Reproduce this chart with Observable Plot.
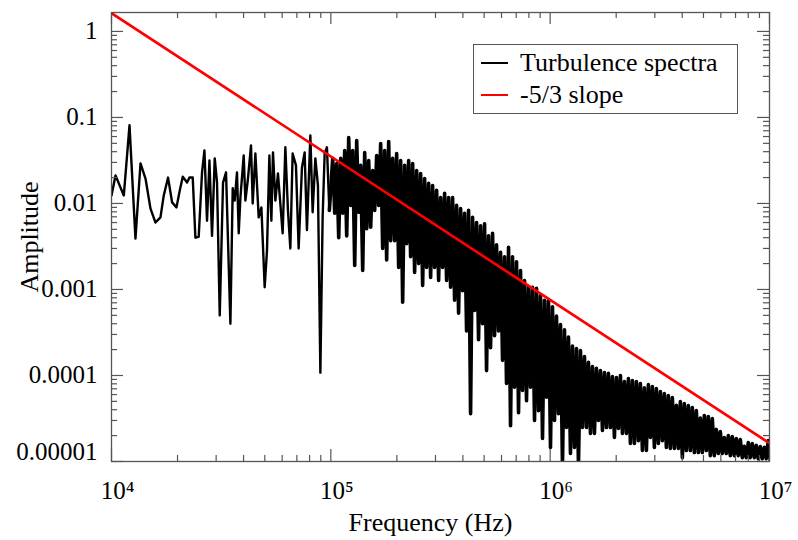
<!DOCTYPE html>
<html><head><meta charset="utf-8">
<script src="https://cdn.jsdelivr.net/npm/d3@7"></script>
<script src="https://cdn.jsdelivr.net/npm/@observablehq/plot@0.6"></script>
<style>
body{margin:0;background:#fff;}
#wrap{position:relative;width:798px;height:540px;font-family:"Liberation Serif","Tinos","Times New Roman","DejaVu Serif",serif;}
#wrap svg text{font-family:"Liberation Serif","Tinos","Times New Roman","DejaVu Serif",serif;}
#legend{position:absolute;left:473px;top:44px;width:265px;height:70px;border:1.3px solid #555;box-sizing:border-box;background:#fff;font-size:26px;color:#000;}
.row{position:absolute;left:0;height:26px;line-height:26px;display:flex;align-items:center;white-space:nowrap;}
.sw{display:inline-block;width:27px;height:0;border-top:2.5px solid;margin-left:7px;margin-right:12px;}
</style></head><body><div id="wrap"><div id="legend"></div></div>
<script>
// ---- Data ----
const seriesNames = ["Turbulence spectra", "-5/3 slope"];
const seriesColors = ["#000000", "#ff0000"];

// low-frequency part of the spectrum (sparse bins), frequency in Hz and amplitude
const lowFreq = [10000,10430,11380,12080,12860,13560,14290,15060,15870,16720,17310,18110,18890,19780,20480,21130,22110,22670,23460,24130,24980,25870,26530,27260,27960,28730,29560,30280,31150,32250,33280,34840,35700,36450,37340,38020,38700,40060,40780,41900,43250,44030,45290,46890,48240,49930,51150,52460,53570,54480,55870,57410,60310,62040,63750,65370,66970,69340,71330,73840,75960,77820,80650,82620,85000,87340,89590,91750,93720,96000,98450];
const lowAmp = [0.0124,0.0212,0.0124,0.081,0.0039,0.0292,0.0195,0.0087,0.0060,0.0069,0.0124,0.020,0.0103,0.0090,0.0142,0.0205,0.0175,0.020,0.020,0.0040,0.0041,0.023,0.0413,0.0063,0.0316,0.0042,0.0334,0.0175,0.0005,0.0175,0.023,0.0004,0.015,0.0108,0.023,0.0045,0.0117,0.0361,0.0108,0.0195,0.0472,0.0100,0.0381,0.0069,0.0090,0.00106,0.0028,0.0361,0.0063,0.0392,0.0108,0.0223,0.0045,0.045,0.0083,0.0030,0.0381,0.0277,0.0030,0.026,0.0392,0.0049,0.0618,0.0079,0.0334,0.0162,0.000108,0.0069,0.0381,0.045,0.0083];

// dense part (1.02e5 .. 1.008e7 Hz): alternating peak / trough amplitudes of the spectrum
const denseStart = 1.02e5, denseEnd = 1.008e7;
const densePeaks = [
 0.0334,0.0292,0.0334,0.0413,0.0585,0.0413,0.054,0.0277,0.0392,0.0316,
 0.0242,0.0361,0.0498,0.0413,0.0526,0.0334,0.0381,0.0316,0.0277,0.0316,
 0.0292,0.0242,0.0223,0.0195,0.0171,0.0162,0.0142,0.0117,0.0131,0.0117,
 0.0117,0.0095,0.0087,0.0077,0.0083,0.0069,0.0060,0.0055,0.0058,0.0042,
 0.0045,0.0033,0.0027,0.0024,0.0031,0.0024,0.0021,0.00166,0.00127,0.00108,
 0.00106,0.00103,0.00085,0.00075,0.00075,0.00063,0.00049,0.00039,0.00034,0.00028,
 0.00022,0.000206,0.000195,0.000166,0.000142,0.000127,0.000121,0.000114,0.000108,0.000106,
 0.0000974,0.0000948,0.0001,0.000085,0.0000923,0.0000874,0.0000852,0.0000807,0.000072,0.0000786,
 0.0000745,0.0000706,0.0000652,0.0000618,0.0000585,0.0000555,0.000045,0.0000498,0.0000473,0.0000448,
 0.0000425,0.0000392,0.000032,0.0000343,0.0000334,0.0000316,0.0000236,0.0000223,0.000019,0.00002,
 0.0000195,0.0000185,0.000018,0.000015,0.0000166,0.0000162,0.0000154,0.0000149,0.0000146,0.0000175];
const denseTroughs = [
 0.0077,0.0040,0.0077,0.0042,0.0095,0.0019,0.0079,0.00166,0.0051,0.0053,
 0.0083,0.0095,0.0030,0.0022,0.0037,0.0037,0.0018,0.00071,0.0034,0.0024,
 0.00158,0.0020,0.00111,0.0018,0.00138,0.0018,0.00127,0.0018,0.00127,0.00106,
 0.00075,0.00053,0.00097,0.00033,0.000036,0.00057,0.00026,0.0004,0.000114,0.00021,
 0.00029,0.00033,0.00015,0.000081,0.000026,0.000073,0.000037,0.000067,0.000051,0.000073,
 0.00003,0.000039,0.0000185,0.000056,0.0000146,0.00003,0.000036,0.000009,0.0000248,0.0000124,
 0.0000146,0.000009,0.0000248,0.0000248,0.0000212,0.0000212,0.00003,0.000023,0.0000248,0.0000248,
 0.000019,0.0000242,0.0000212,0.0000212,0.0000162,0.0000162,0.0000175,0.0000134,0.0000134,0.000019,
 0.0000146,0.0000162,0.0000175,0.0000146,0.0000142,0.0000142,0.0000142,0.0000111,0.0000134,0.0000134,
 0.0000127,0.0000127,0.0000127,0.0000134,0.0000117,0.0000117,0.0000124,0.0000124,0.0000124,0.0000117,
 0.0000117,0.0000117,0.0000111,0.0000111,0.0000111,0.0000111,0.0000108,0.0000108,0.0000108,0.0000103];

// -5/3 reference slope
const slopeFreq = [1e4, 1e7];
const slopeAmp = [1.63, 1.63e-5];

// axes
const xTicks = [1e4, 1e5, 1e6, 1e7];
const xTickLabels = ["10\u2074", "10\u2075", "10\u2076", "10\u2077"];
const yTicks = [1, 0.1, 0.01, 0.001, 0.0001, 0.00001];
const yTickLabels = ["1", "0.1", "0.01", "0.001", "0.0001", "0.00001"];
const xTitle = "Frequency (Hz)";
const yTitle = "Amplitude";

// ---- Build tables ----
const denseAmp = densePeaks.flatMap((p, i) => [p, denseTroughs[i]]);
const denseFreq = denseAmp.map((_, k) => denseStart * Math.pow(denseEnd / denseStart, k / (denseAmp.length - 1)));
const lowPart = lowFreq.map((f, i) => ({f, a: lowAmp[i]}));
const densePart = [lowPart[lowPart.length - 1]].concat(denseFreq.map((f, i) => ({f, a: denseAmp[i]})));
const slope = slopeFreq.map((f, i) => ({f, a: slopeAmp[i]}));

const xMinor = [1e4, 1e5, 1e6].flatMap(d => d3.range(2, 10).map(k => k * d));
const yMinor = [1e-5, 1e-4, 1e-3, 1e-2, 1e-1].flatMap(d => d3.range(2, 10).map(k => k * d));

const W = 798, H = 540, mL = 111, mR = 29, mT = 12, mB = 79;
const iw = W - mL - mR, ih = H - mT - mB;
const tc = "#555";
const MAJ = 12, MIN = 6;
const FS = 25, FT = 26;
const font = '"Liberation Serif", "Tinos", "Times New Roman", "DejaVu Serif", serif';

const chart = Plot.plot({
  width: W, height: H,
  marginLeft: mL, marginRight: mR, marginTop: mT, marginBottom: mB,
  style: {fontFamily: font, background: "#fff"},
  x: {type: "log", domain: [1e4, 1e7], axis: null},
  y: {type: "log", domain: [1e-5, 1.66], axis: null},
  marks: [
    Plot.line(lowPart, {x: "f", y: "a", stroke: seriesColors[0], strokeWidth: 2.4, clip: true}),
    Plot.line(densePart, {x: "f", y: "a", stroke: seriesColors[0], strokeWidth: 3.6, clip: true}),
    Plot.line(slope, {x: "f", y: "a", stroke: seriesColors[1], strokeWidth: 2.6, clip: true}),
    // ticks (inward on all four sides)
    Plot.tickX(xTicks, {x: d => d, insetTop: ih - MAJ, stroke: tc, strokeWidth: 1.2}),
    Plot.tickX(xTicks, {x: d => d, insetBottom: ih - MAJ, stroke: tc, strokeWidth: 1.2}),
    Plot.tickX(xMinor, {x: d => d, insetTop: ih - MIN, stroke: tc, strokeWidth: 1.2}),
    Plot.tickX(xMinor, {x: d => d, insetBottom: ih - MIN, stroke: tc, strokeWidth: 1.2}),
    Plot.tickY(yTicks, {y: d => d, insetRight: iw - MAJ, stroke: tc, strokeWidth: 1.2}),
    Plot.tickY(yTicks, {y: d => d, insetLeft: iw - MAJ, stroke: tc, strokeWidth: 1.2}),
    Plot.tickY(yMinor, {y: d => d, insetRight: iw - MIN, stroke: tc, strokeWidth: 1.2}),
    Plot.tickY(yMinor, {y: d => d, insetLeft: iw - MIN, stroke: tc, strokeWidth: 1.2}),
    Plot.frame({stroke: tc, strokeWidth: 1.3}),
    // tick labels
    Plot.text(xTicks, {x: d => d, frameAnchor: "bottom", lineAnchor: "middle", dy: 29, dx: 6, text: (d, i) => xTickLabels[i], fontSize: FS, fill: "#000"}),
    Plot.text(yTicks.slice(0, 5), {y: d => d, frameAnchor: "left", lineAnchor: "middle", dx: -14, textAnchor: "end", text: (d, i) => yTickLabels[i], fontSize: FS, fill: "#000"}),
    Plot.text(yTicks.slice(5), {y: d => d, frameAnchor: "left", lineAnchor: "middle", dx: -14, dy: -10, textAnchor: "end", text: (d, i) => yTickLabels[5 + i], fontSize: FS, fill: "#000"}),
    // axis titles
    Plot.text([xTitle], {frameAnchor: "bottom", lineAnchor: "middle", textAnchor: "middle", dy: 61, dx: -10, text: d => d, fontSize: FT, fill: "#000"}),
    Plot.text([yTitle], {frameAnchor: "left", lineAnchor: "middle", textAnchor: "middle", dx: -82, rotate: -90, text: d => d, fontSize: FT, fill: "#000"})
  ]
});
const wrap = document.getElementById("wrap");
wrap.insertBefore(chart, wrap.firstChild);

// legend overlay
const legend = document.getElementById("legend");
const rowCenters = [18, 50];
seriesNames.forEach((name, i) => {
  const row = document.createElement("div");
  row.className = "row";
  row.style.top = (rowCenters[i] - 13) + "px";
  const sw = document.createElement("span");
  sw.className = "sw";
  sw.style.borderTopColor = seriesColors[i];
  const t = document.createElement("span");
  t.textContent = name;
  row.appendChild(sw); row.appendChild(t);
  legend.appendChild(row);
});
</script></body></html>
